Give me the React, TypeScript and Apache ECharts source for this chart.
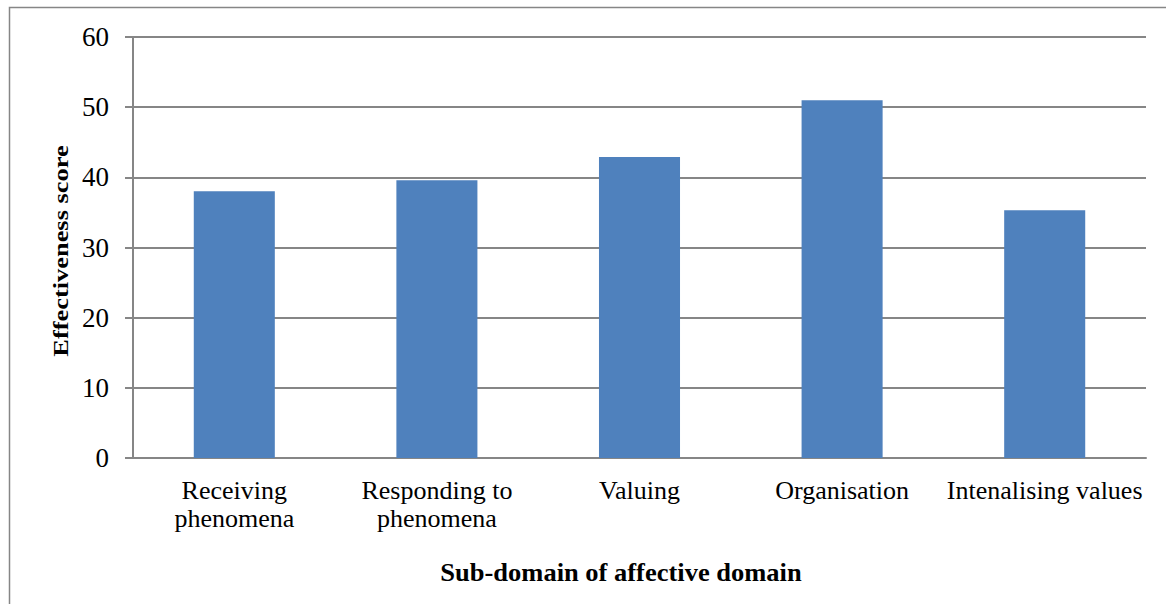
import React, { useEffect, useRef } from "react";
import * as echarts from "echarts";

const categories = [
  "Receiving\nphenomena",
  "Responding to\nphenomena",
  "Valuing",
  "Organisation",
  "Intenalising values",
];
const scores = [38.0, 39.6, 42.9, 51.0, 35.3];
const yTicks = { min: 0, max: 60, interval: 10 };
const xTitle = "Sub-domain of affective domain";
const yTitle = "Effectiveness score";

export default function App() {
  const ref = useRef<HTMLDivElement>(null);
  useEffect(() => {
    if (!ref.current) return;
    const chart = echarts.init(ref.current, null, { renderer: "svg" });
    const font = "'Liberation Serif', 'Times New Roman', serif";
    chart.setOption({
      animation: false,
      backgroundColor: "#ffffff",
      textStyle: { fontFamily: font },
      graphic: [
        {
          type: "rect",
          shape: { x: 9.5, y: 7.5, width: 1200, height: 700 },
          style: { fill: "none", stroke: "#868686", lineWidth: 1.5 },
          silent: true,
        },
        {
          type: "text",
          x: 621,
          y: 573,
          scaleX: 1.06,
          scaleY: 1,
          style: {
            text: xTitle,
            font: `bold 25px ${font}`,
            fill: "#000",
            align: "center",
            verticalAlign: "middle",
          },
        },
        {
          type: "text",
          x: 61,
          y: 251,
          rotation: Math.PI / 2,
          scaleX: 1.32,
          scaleY: 1,
          style: {
            text: yTitle,
            font: `bold 20px ${font}`,
            fill: "#000",
            align: "center",
            verticalAlign: "middle",
          },
        },
      ],
      grid: { left: 133, right: 20, top: 37, bottom: 146, containLabel: false },
      xAxis: {
        type: "category",
        data: categories,
        axisLine: { lineStyle: { color: "#868686", width: 2 } },
        axisTick: { show: false },
        axisLabel: {
          color: "#000",
          fontSize: 26,
          fontFamily: font,
          margin: 18,
          lineHeight: 28,
          interval: 0,
        },
      },
      yAxis: {
        type: "value",
        min: yTicks.min,
        max: yTicks.max,
        interval: yTicks.interval,
        axisLine: { show: true, lineStyle: { color: "#868686", width: 2 } },
        axisTick: { show: true, length: 8, lineStyle: { color: "#868686", width: 2 } },
        axisLabel: { color: "#000", fontSize: 27, fontFamily: font, margin: 24 },
        splitLine: { lineStyle: { color: "#868686", width: 2 } },
      },
      series: [
        {
          type: "bar",
          data: scores,
          barWidth: "40%",
          itemStyle: { color: "#4F81BD" },
        },
      ],
    });
    return () => chart.dispose();
  }, []);
  return (
    <div
      ref={ref}
      style={{ position: "fixed", left: 0, top: 0, width: 1166, height: 604 }}
    />
  );
}
